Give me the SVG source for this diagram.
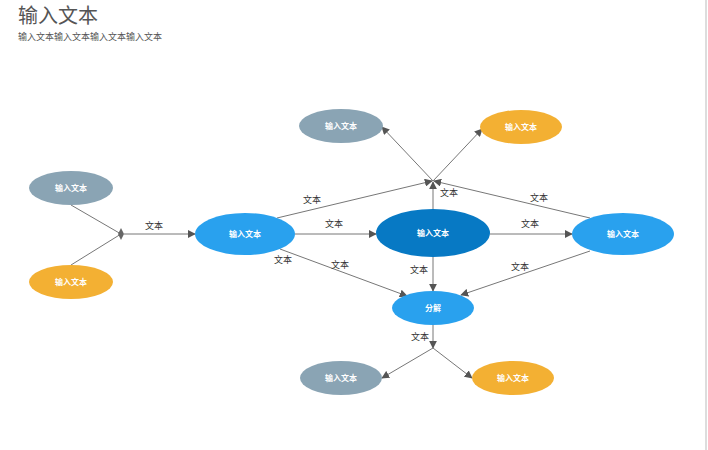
<svg xmlns="http://www.w3.org/2000/svg" width="708" height="450" viewBox="0 0 708 450">
<style>
text{font-family:"Liberation Sans","Noto Sans CJK SC",sans-serif}
.n{font-size:8px;fill:#fff;font-weight:bold;text-anchor:middle;dominant-baseline:central}
.l{font-size:9px;fill:#333;text-anchor:middle;dominant-baseline:central}
.e{stroke:#777;stroke-width:1;fill:none}
.a{marker-end:url(#ar)}
</style>
<defs><marker id="ar" viewBox="0 0 10 10" refX="9" refY="5" markerWidth="8" markerHeight="8" orient="auto" markerUnits="userSpaceOnUse"><path d="M0,0L10,5L0,10z" fill="#555"/></marker></defs>
<rect width="708" height="450" fill="#fff"/>
<line x1="706" y1="0" x2="706" y2="450" stroke="#ddd" stroke-width="2"/>
<text x="18" y="23" font-size="20" fill="#555">输入文本</text>
<text x="18" y="40" font-size="9" fill="#555">输入文本输入文本输入文本输入文本</text>
<g id="connectors">
<path class="e" d="M71,205L121,234M71,265L121,234"/>
<path d="M121,228L124,234L121,240L118,234z" fill="#666"/>
<path class="e a" d="M124,234L195,234"/>
<path class="e a" d="M277,218L432,181"/>
<path class="e a" d="M433,209L433,182"/>
<path class="e a" d="M590,218L434,181"/>
<path class="e a" d="M433,181L382,127"/>
<path class="e a" d="M433,181L482,129"/>
<path class="e a" d="M295,234L376,234"/>
<path class="e a" d="M490,234L572,234"/>
<path class="e a" d="M280,249L407,296"/>
<path class="e a" d="M433,257L433,291"/>
<path class="e a" d="M590,251L461,295"/>
<path class="e a" d="M433,325L433,348"/>
<path class="e a" d="M433,348L382,378"/>
<path class="e a" d="M433,348L472,378"/>
<text class="l" x="154" y="226">文本</text>
<text class="l" x="312" y="200">文本</text>
<text class="l" x="449" y="193">文本</text>
<text class="l" x="539" y="198">文本</text>
<text class="l" x="334" y="224">文本</text>
<text class="l" x="530" y="224">文本</text>
<text class="l" x="283" y="260">文本</text>
<text class="l" x="340" y="265">文本</text>
<text class="l" x="419" y="270">文本</text>
<text class="l" x="520" y="267">文本</text>
<text class="l" x="420" y="337">文本</text>
</g>
<g id="g1"><ellipse cx="71" cy="188" rx="42" ry="17" fill="#8aa4b4"/><text class="n" x="71" y="188">输入文本</text></g>
<g id="o1"><ellipse cx="71" cy="282" rx="42" ry="17" fill="#f3b033"/><text class="n" x="71" y="282">输入文本</text></g>
<g id="A"><ellipse cx="245" cy="234" rx="50" ry="21" fill="#29a1ee"/><text class="n" x="245" y="234">输入文本</text></g>
<g id="C"><ellipse cx="433" cy="233" rx="57" ry="24" fill="#0779c4"/><text class="n" x="433" y="233">输入文本</text></g>
<g id="B"><ellipse cx="623" cy="234" rx="51" ry="21" fill="#29a1ee"/><text class="n" x="623" y="234">输入文本</text></g>
<g id="D"><ellipse cx="433" cy="308" rx="41" ry="17" fill="#29a1ee"/><text class="n" x="433" y="308">分解</text></g>
<g id="tg"><ellipse cx="341" cy="126" rx="42" ry="17" fill="#8aa4b4"/><text class="n" x="341" y="126">输入文本</text></g>
<g id="to"><ellipse cx="521" cy="127" rx="41" ry="17" fill="#f3b033"/><text class="n" x="521" y="127">输入文本</text></g>
<g id="bg"><ellipse cx="341" cy="378" rx="41" ry="17" fill="#8aa4b4"/><text class="n" x="341" y="378">输入文本</text></g>
<g id="bo"><ellipse cx="513" cy="378" rx="41" ry="17" fill="#f3b033"/><text class="n" x="513" y="378">输入文本</text></g>
</svg>
